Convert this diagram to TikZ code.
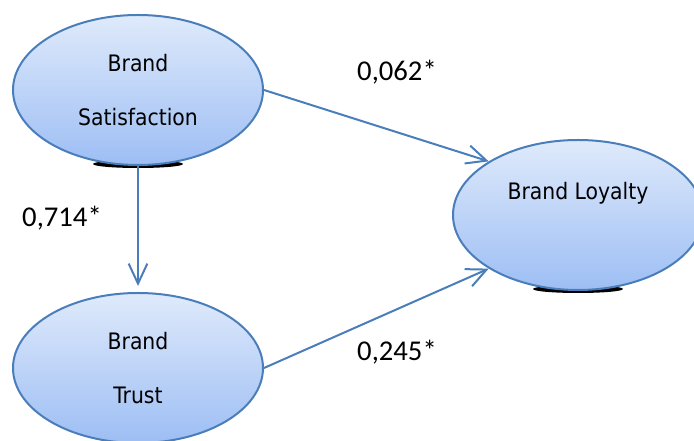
\documentclass[tikz,border=0pt]{standalone}
\usepackage{fontspec}
\usepackage{tikz}
\usetikzlibrary{arrows.meta}
\usetikzlibrary{shapes}
\usetikzlibrary{positioning}
\newfontfamily\constructfont{DejaVu Sans Condensed}
\newfontfamily\coeffont{Carlito}
\definecolor{pathblue}{HTML}{4A7EBB}
\definecolor{topblue}{HTML}{DFEAFB}
\definecolor{botblue}{HTML}{9DBEF4}

\begin{document}
\begin{tikzpicture}[x=0.75pt,y=-0.75pt]
            \tikzset{construct/.style={ellipse, draw=pathblue, line width=1.5pt,
                        top color=topblue, bottom color=botblue,
                        minimum width=187.5pt, minimum height=112.5pt, inner sep=0pt,
                        align=center, font=\constructfont\fontsize{17}{40}\selectfont},
                    coef/.style={font=\coeffont\fontsize{21.5}{24}\selectfont},
                    >={Straight Barb[length=15pt,width=14pt]},
                    every edge/.style={draw=pathblue, line width=1.5pt}}
            \clip (0,0) rectangle (694,441);
            % shadows under the ellipses
            \fill[black] (138,164) ellipse [x radius=45, y radius=4];
            \fill[black] (578,289) ellipse [x radius=45, y radius=4];
            \node[construct] (sat) at (138, 90) {Brand\\Satisfaction};
            \node[construct] (trust) at (138, 368) {Brand\\Trust};
            \node[construct, label={[font=\constructfont\fontsize{17}{20}\selectfont, yshift=16.5pt]center:Brand Loyalty}] (loy) at (578, 215) {};
            \path [->] (sat.east) edge (loy.149);
            \path [->] (trust.east) edge (loy.211);
            \path [->, shorten >=4.5pt] (sat.south) edge (trust.north);
            \node[coef] (c1) at (397, 72) {0,062*};
            \node[coef] (c2) at (62, 218) {0,714*};
            \node[coef] (c3) at (397, 352) {0,245*};
        \end{tikzpicture}
\end{document}
